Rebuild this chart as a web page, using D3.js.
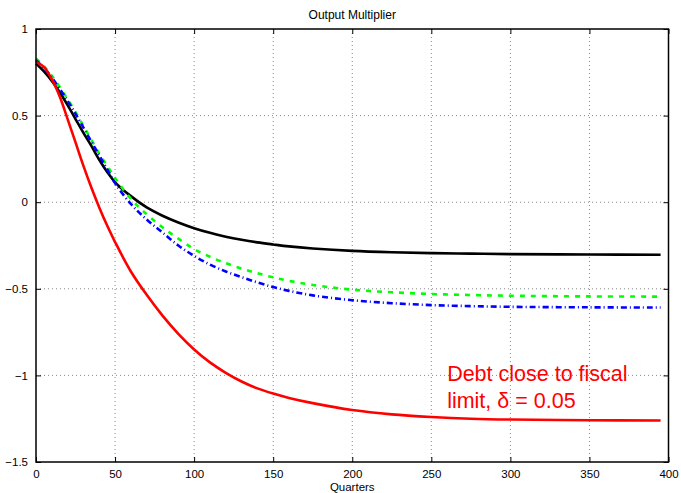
<!DOCTYPE html>
<html>
<head>
<meta charset="utf-8">
<script src="https://cdn.jsdelivr.net/npm/d3@7"></script>
<style>
  body { margin: 0; background: #fff; }
  text { font-family: "Liberation Sans", Arial, sans-serif; }
</style>
</head>
<body>
<svg id="chart"></svg>
<script>
// quarters sampled along the curves
var quarters = [0, 5, 10, 15, 20, 25, 30, 35, 40, 45, 50, 60, 70, 80, 90, 100, 110, 120, 130, 140, 150, 160, 175, 200, 225, 250, 275, 300, 350, 395];

var blackSeries = [0.80, 0.755, 0.70, 0.635, 0.56, 0.48, 0.40, 0.325, 0.245, 0.175, 0.115, 0.035, -0.03, -0.078, -0.117, -0.15, -0.177, -0.199, -0.217, -0.232, -0.244, -0.255, -0.267, -0.281, -0.289, -0.294, -0.297, -0.30, -0.302, -0.303];
var greenSeries = [0.83, 0.785, 0.73, 0.665, 0.595, 0.52, 0.44, 0.36, 0.28, 0.21, 0.14, 0.02, -0.07, -0.145, -0.21, -0.27, -0.315, -0.352, -0.383, -0.41, -0.434, -0.454, -0.478, -0.505, -0.52, -0.53, -0.536, -0.54, -0.544, -0.545];
var blueSeries = [0.82, 0.775, 0.72, 0.655, 0.585, 0.51, 0.43, 0.35, 0.27, 0.19, 0.11, -0.01, -0.10, -0.175, -0.25, -0.31, -0.36, -0.40, -0.433, -0.463, -0.49, -0.512, -0.538, -0.566, -0.583, -0.594, -0.60, -0.604, -0.607, -0.608];
var redSeries = [0.81, 0.78, 0.71, 0.61, 0.48, 0.345, 0.21, 0.085, -0.03, -0.135, -0.23, -0.40, -0.535, -0.655, -0.76, -0.85, -0.925, -0.985, -1.035, -1.075, -1.105, -1.13, -1.16, -1.20, -1.225, -1.24, -1.25, -1.255, -1.259, -1.26];

var xTicks = [0, 50, 100, 150, 200, 250, 300, 350, 400];
var yTicks = [1, 0.5, 0, -0.5, -1, -1.5];

var margin = {top: 29, right: 12.5, bottom: 31, left: 36};
var fullW = 681, fullH = 493;
var width = fullW - margin.left - margin.right;
var height = fullH - margin.top - margin.bottom;

var svg = d3.select('#chart')
    .attr('width', fullW)
    .attr('height', fullH);

var g = svg.append('g')
    .attr('transform', 'translate(' + margin.left + ',' + margin.top + ')');

var xScale = d3.scaleLinear().domain([0, 400]).range([0, width]);
var yScale = d3.scaleLinear().domain([-1.5, 1]).range([height, 0]);

// dotted grid
g.append('g')
  .selectAll('line')
  .data(xTicks.slice(1, -1))
  .enter().append('line')
    .attr('x1', d => xScale(d)).attr('x2', d => xScale(d))
    .attr('y1', 0).attr('y2', height)
    .attr('stroke', '#888').attr('stroke-width', 1)
    .attr('stroke-dasharray', '1,3');

g.append('g')
  .selectAll('line')
  .data(yTicks.slice(1, -1))
  .enter().append('line')
    .attr('y1', d => yScale(d)).attr('y2', d => yScale(d))
    .attr('x1', 0).attr('x2', width)
    .attr('stroke', '#888').attr('stroke-width', 1)
    .attr('stroke-dasharray', '1,3');

// lines
var series = [
  {vals: blackSeries, color: '#000000', dash: null},
  {vals: greenSeries, color: '#00ff00', dash: '5,6'},
  {vals: blueSeries, color: '#0000ff', dash: '6,3,1,3'},
  {vals: redSeries, color: '#ff0000', dash: null}
];

var line = d3.line()
    .x(d => xScale(d[0]))
    .y(d => yScale(d[1]))
    .curve(d3.curveCatmullRom.alpha(0.5));

g.selectAll('.series')
  .data(series)
  .enter().append('path')
    .attr('class', 'series')
    .attr('d', s => line(quarters.map((q, i) => [q, s.vals[i]])))
    .attr('fill', 'none')
    .attr('stroke', s => s.color)
    .attr('stroke-width', 2.6)
    .attr('stroke-dasharray', s => s.dash);

// axes, ticks pointing inward on all four sides
var fmt = d3.format('');
var xAxis = d3.axisBottom(xScale).tickValues(xTicks).tickSize(-5).tickPadding(8).tickFormat(fmt);
var xAxisTop = d3.axisTop(xScale).tickValues(xTicks).tickSize(-5).tickFormat('');
var yAxis = d3.axisLeft(yScale).tickValues(yTicks).tickSize(-5).tickPadding(8).tickFormat(fmt);
var yAxisRight = d3.axisRight(yScale).tickValues(yTicks).tickSize(-5).tickFormat('');

function styleAxis(sel) {
  sel.select('.domain').remove();
  sel.selectAll('line').attr('stroke', '#000').attr('stroke-width', 1);
  sel.selectAll('text').attr('fill', '#000').style('font-size', '11.5px');
}

g.append('g').attr('transform', 'translate(0,' + height + ')').call(xAxis).call(styleAxis);
g.append('g').call(xAxisTop).call(styleAxis);
g.append('g').call(yAxis).call(styleAxis);
g.append('g').attr('transform', 'translate(' + width + ',0)').call(yAxisRight).call(styleAxis);

// box
g.append('rect')
    .attr('width', width).attr('height', height)
    .attr('fill', 'none').attr('stroke', '#000').attr('stroke-width', 1.5);

// title and label
svg.append('text')
    .attr('x', margin.left + width / 2).attr('y', 19)
    .attr('text-anchor', 'middle')
    .style('font-size', '12px')
    .text('Output Multiplier');

svg.append('text')
    .attr('x', margin.left + width / 2).attr('y', 491)
    .attr('text-anchor', 'middle')
    .style('font-size', '11.5px')
    .text('Quarters');

// annotation
var note = g.append('text')
    .attr('fill', '#ff0000')
    .style('font-size', '21.5px');
note.append('tspan').attr('x', xScale(260)).attr('y', yScale(-1.03)).text('Debt close to fiscal');
note.append('tspan').attr('x', xScale(260)).attr('y', yScale(-1.19)).text('limit, δ = 0.05');
</script>
</body>
</html>
